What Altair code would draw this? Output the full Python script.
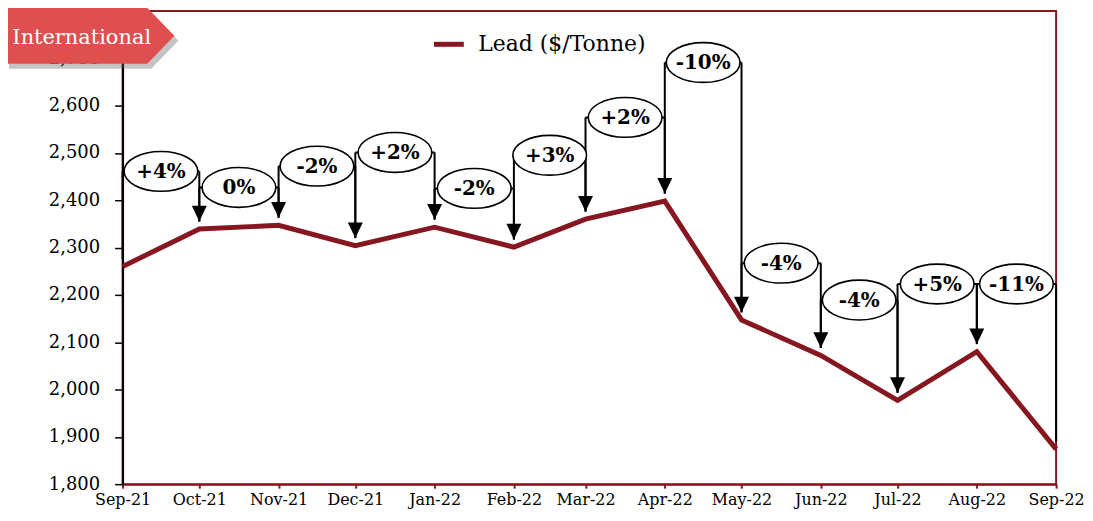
import altair as alt
import pandas as pd

# ---- data ----
months = ["2021-09-01", "2021-10-01", "2021-11-01", "2021-12-01", "2022-01-01",
          "2022-02-01", "2022-03-01", "2022-04-01", "2022-05-01", "2022-06-01",
          "2022-07-01", "2022-08-01", "2022-09-01"]
lead = [2260, 2339, 2347, 2304, 2343, 2301, 2360, 2398, 2147, 2072, 1977, 2080, 1874]
series_name = "Lead ($/Tonne)"

pct_labels = ["+4%", "0%", "-2%", "+2%", "-2%", "+3%", "+2%", "-10%", "-4%", "-4%", "+5%", "-11%"]
bracket_levels = [2461, 2427, 2472, 2501, 2425, 2495, 2575, 2691, 2267, 2189, 2223, 2223]
has_arrow = [True] * 11 + [False]
arrow_gap = 16

LINE_RED = "#86161f"
BADGE_RED = "#df4f4f"
FONT = "DejaVu Serif"

dates = pd.to_datetime(months)
line_df = pd.DataFrame({"month": dates, "value": lead, "series": series_name})

seg = pd.DataFrame({
    "x0": dates[:-1],
    "x1": dates[1:],
    "level": bracket_levels,
    "label": pct_labels,
    "arrow": has_arrow,
    "tip0": [v + arrow_gap for v in lead[:-1]],
    "tip1": [v + arrow_gap for v in lead[1:]],
})
seg["xm"] = seg["x0"] + (seg["x1"] - seg["x0"]) / 2

xscale = alt.Scale(nice=False, padding=0)
yscale = alt.Scale(domain=[1800, 2800], nice=False, zero=False)

x_axis = alt.Axis(format="%b-%y", tickCount={"interval": "month", "step": 1},
                  labelOverlap=False, labelFlush=False, title=None, grid=False,
                  domainColor=LINE_RED, domainWidth=2, tickColor=LINE_RED,
                  tickWidth=2, tickSize=4, labelPadding=3,
                  labelFont=FONT, labelFontSize=16, labelColor="black")
y_axis = alt.Axis(values=list(range(1800, 2801, 100)), format=",.0f", title=None,
                  grid=False, domainColor="black", domainWidth=2,
                  tickColor="black", tickWidth=1.5, tickSize=8, labelPadding=15,
                  labelFont=FONT, labelFontSize=18, labelColor="black")

base_line = alt.Chart(line_df).mark_line(strokeWidth=5, strokeJoin="miter").encode(
    x=alt.X("month:T", scale=xscale, axis=x_axis),
    y=alt.Y("value:Q", scale=yscale, axis=y_axis),
    color=alt.Color("series:N",
                    scale=alt.Scale(domain=[series_name], range=[LINE_RED]),
                    legend=alt.Legend(orient="none", legendX=310, legendY=16,
                                      title=None, symbolType="stroke",
                                      symbolStrokeWidth=5, symbolSize=900,
                                      labelFont=FONT, labelFontSize=22,
                                      labelColor="black", padding=0,
                                      labelOffset=12, labelLimit=400)),
)

segb = alt.Chart(seg)

left_vert = segb.mark_rule(color="black", strokeWidth=2).encode(
    x=alt.X("x0:T"), y=alt.Y("level:Q"), y2="tip0:Q")
right_vert = segb.mark_rule(color="black", strokeWidth=2).encode(
    x=alt.X("x1:T"), y=alt.Y("level:Q"), y2="tip1:Q")
horiz = segb.mark_rule(color="black", strokeWidth=2).encode(
    x=alt.X("x0:T"), x2="x1:T", y=alt.Y("level:Q"))

ellipse_path = "M-1,0A1,0.54,0,1,1,1,0A1,0.54,0,1,1,-1,0Z"
ellipses = segb.mark_point(shape=ellipse_path, size=5476, filled=True,
                           fill="white", stroke="black", strokeWidth=1.6,
                           opacity=1).encode(
    x=alt.X("xm:T"), y=alt.Y("level:Q"))
labels = segb.mark_text(font=FONT, fontSize=20, fontWeight="bold",
                        color="black", baseline="middle", align="center",
                        dy=1).encode(
    x=alt.X("xm:T"), y=alt.Y("level:Q"), text="label:N")

arrow_path = "M-1,-2.1L1,-2.1L0,0Z"
heads = segb.transform_filter("datum.arrow").mark_point(
    shape=arrow_path, size=225, filled=True, color="black", opacity=1).encode(
    x=alt.X("x1:T"), y=alt.Y("tip1:Q"))

one = alt.Chart(pd.DataFrame({"k": [0]}))
badge_path = "M-1,-0.33L0.68,-0.33L1,0L0.68,0.33L-1,0.33Z"
badge_shadow = one.mark_point(shape=badge_path, size=28900, filled=True,
                              color="#555555", opacity=0.35).encode(
    x=alt.value(-29), y=alt.value(30))
badge = one.mark_point(shape=badge_path, size=28900, filled=True,
                       color=BADGE_RED, opacity=1).encode(
    x=alt.value(-33), y=alt.value(25))
badge_text = one.mark_text(font=FONT, fontSize=21, color="white",
                           align="center", baseline="middle").encode(
    x=alt.value(-41), y=alt.value(27), text=alt.value("International"))

chart = alt.layer(
    base_line, horiz, left_vert, right_vert, ellipses, labels, heads,
    badge_shadow, badge, badge_text
).properties(
    width=937, height=475,
    autosize=alt.AutoSizeParams(type="none"),
    padding={"left": 115, "top": 2, "right": 29, "bottom": 26},
    background="white",
).configure_view(
    stroke=LINE_RED, strokeWidth=2
)

chart.save("out.html", embed_options={"renderer": "svg", "actions": False})
